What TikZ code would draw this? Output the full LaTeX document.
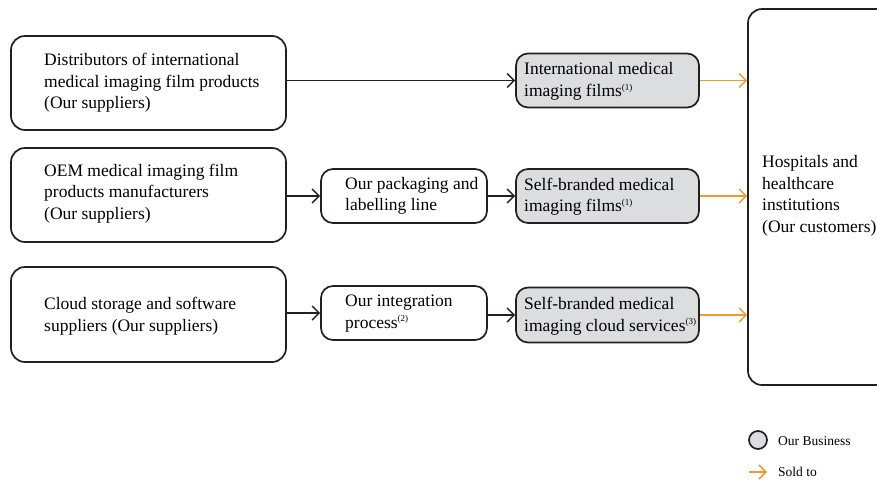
\documentclass[tikz,border=0pt]{standalone}
\usepackage{fontspec}
\setmainfont{Liberation Serif}
\usetikzlibrary{arrows.meta}
\definecolor{ink}{HTML}{231F20}
\definecolor{biz}{HTML}{DCDDDF}
\definecolor{sold}{HTML}{F39A2B}
\newcommand{\fn}[1]{\textsuperscript{\fontsize{9}{9}\selectfont(#1)}}
\tikzset{
  x=1pt, y=-1pt,
  box/.style={draw=ink, line width=1.7pt, rounded corners=14pt, inner sep=0pt},
  bizbox/.style={box, fill=biz, rounded corners=12pt},
  midbox/.style={box, rounded corners=12pt},
  txt/.style={anchor=west, align=left, inner sep=0pt, font=\fontsize{17.5}{21.5}\selectfont, text=black},
  flow/.style={draw=ink, line width=1.5pt, -{Straight Barb[length=7pt,width=14pt,line width=1.5pt]}},
  sell/.style={draw=sold, line width=1.5pt, -{Straight Barb[length=7pt,width=14pt,line width=1.5pt]}},
  legtxt/.style={anchor=west, inner sep=0pt, font=\fontsize{13.5}{16}\selectfont},
}
\begin{document}
\begin{tikzpicture}
\clip (0,0) rectangle (877,480);
% suppliers
\node[box, minimum width=275pt, minimum height=94pt] (A1) at (148.5,83) {};
\node[box, minimum width=275pt, minimum height=94pt] (A2) at (148.5,195) {};
\node[box, minimum width=275pt, minimum height=95pt] (A3) at (148.5,314.5) {};
\node[txt] (tA1) at (44,83) {Distributors of international\\medical imaging film products\\(Our suppliers)};
\node[txt] (tA2) at (44,193.5) {OEM medical imaging film\\products manufacturers\\(Our suppliers)};
\node[txt] (tA3) at (44,316) {Cloud storage and software\\suppliers (Our suppliers)};
% processes
\node[midbox, minimum width=166pt, minimum height=54pt] (B2) at (404,196) {};
\node[midbox, minimum width=166pt, minimum height=54pt] (B3) at (404,313) {};
\node[txt] (tB2) at (345,196) {Our packaging and\\labelling line};
\node[txt] (tB3) at (345,313.5) {Our integration\\process\fn{2}};
% business
\node[bizbox, minimum width=183pt, minimum height=54pt] (C1) at (607.5,80.5) {};
\node[bizbox, minimum width=183pt, minimum height=54pt] (C2) at (607.5,196) {};
\node[bizbox, minimum width=183pt, minimum height=55pt] (C3) at (607.5,315) {};
\node[txt] (tC1) at (524,81.5) {International medical\\imaging films\fn{1}};
\node[txt] (tC2) at (524,196.5) {Self-branded medical\\imaging films\fn{1}};
\node[txt] (tC3) at (524,316) {Self-branded medical\\imaging cloud services\fn{3}};
% customers
\node[box, minimum width=150pt, minimum height=376pt] (D) at (823,197) {};
\node[txt] (tD) at (762,196) {Hospitals and\\healthcare\\institutions\\(Our customers)};
% flows
\draw[flow] (A1.east |- C1.west) -- (C1.west);
\draw[flow] (A2.east |- B2.west) -- (B2.west);
\draw[flow] (B2.east) -- (C2.west);
\draw[flow] (A3.east |- B3.west) -- (B3.west);
\draw[flow] (B3.east |- C3.west) -- (C3.west);
\draw[sell] (C1.east) -- (D.west |- C1.east);
\draw[sell] (C2.east) -- (D.west |- C2.east);
\draw[sell] (C3.east) -- (D.west |- C3.east);
% legend
\node[circle, draw=ink, line width=1.7pt, fill=biz, minimum size=18pt, inner sep=0pt] (L1) at (758,440) {};
\node[legtxt] (L1t) at (778,441) {Our Business};
\coordinate (L2a) at (749,472);
\coordinate (L2b) at (767,472);
\draw[sell] (L2a) -- (L2b);
\node[legtxt] (L2t) at (778,472) {Sold to};
\end{tikzpicture}
\end{document}
